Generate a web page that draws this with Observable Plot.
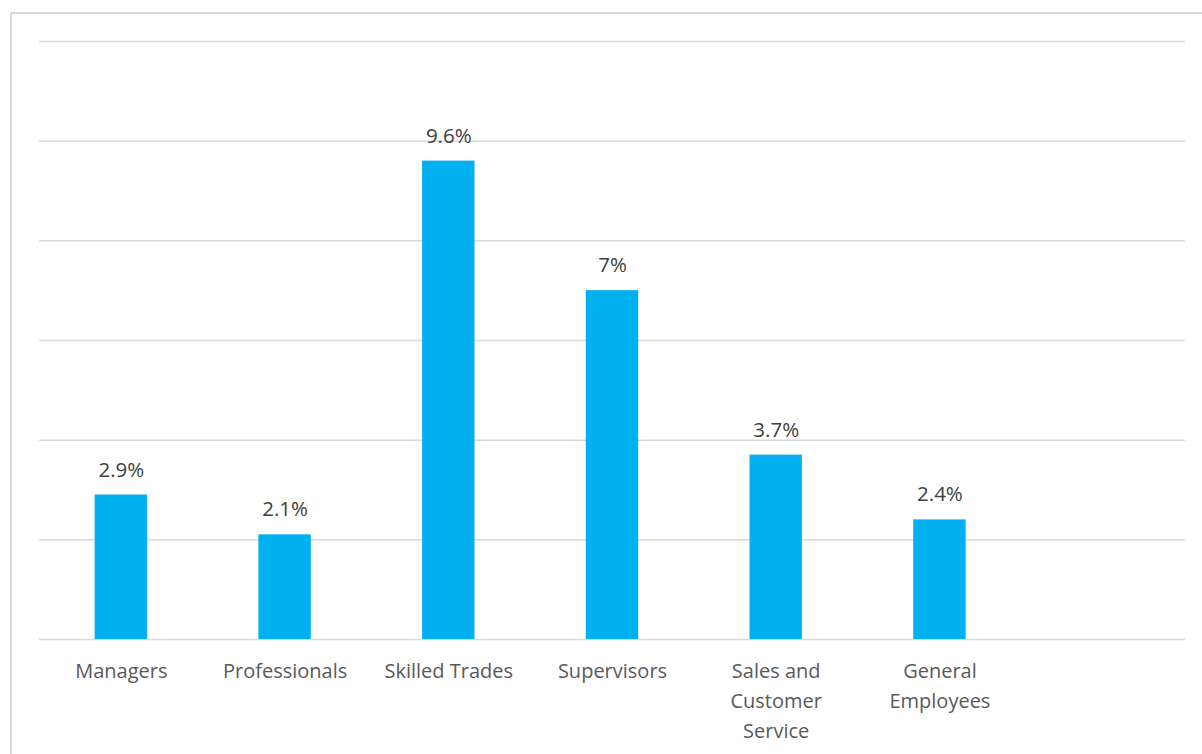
<!DOCTYPE html>
<html>
<head>
<meta charset="utf-8">
<script src="https://cdn.jsdelivr.net/npm/d3@7"></script>
<script src="https://cdn.jsdelivr.net/npm/@observablehq/plot@0.6"></script>
<style>
  html, body { margin: 0; padding: 0; background: #fff; overflow: hidden; }
  #wrap { position: relative; width: 1202px; height: 754px; }
  #frame { position: absolute; left: 10px; top: 12px; width: 1240px; height: 800px; border: 2px solid #d9d9d9; box-sizing: border-box; }
  #chart { position: absolute; left: 0; top: 0; }
</style>
</head>
<body>
<div id="wrap"><div id="frame"></div><div id="chart"></div></div>
<script>
const categories = ["Managers", "Professionals", "Skilled Trades", "Supervisors", "Sales and Customer Service", "General Employees", ""];
const tickLabels = ["Managers", "Professionals", "Skilled Trades", "Supervisors", "Sales and\nCustomer\nService", "General\nEmployees", ""];
const values = [2.9, 2.1, 9.6, 7, 3.7, 2.4];
const valueLabels = ["2.9%", "2.1%", "9.6%", "7%", "3.7%", "2.4%"];
const gridTicks = [0, 2, 4, 6, 8, 10, 12];

const data = values.map((v, i) => ({cat: categories[i], value: v, label: valueLabels[i]}));
const labelOf = new Map(categories.map((c, i) => [c, tickLabels[i]]));

const chart = Plot.plot({
  width: 1202,
  height: 754,
  marginLeft: 39,
  marginRight: 17,
  marginTop: 41,
  marginBottom: 115,
  style: {fontFamily: "'Open Sans', sans-serif", fontSize: "20px", background: "transparent"},
  x: {domain: categories, paddingInner: 0.68, paddingOuter: 0.34, round: false, label: null},
  y: {domain: [0, 12], label: null, axis: null},
  marks: [
    Plot.ruleY(gridTicks, {stroke: "#d9d9d9", strokeWidth: 1.5}),
    Plot.barY(data, {x: "cat", y: "value", fill: "#00b0f0"}),
    Plot.text(data, {x: "cat", y: "value", text: "label", dy: -25, fill: "#404040", fontSize: 20.5}),
    Plot.axisX({tickSize: 0, tickPadding: 17, tickFormat: d => labelOf.get(d), fill: "#595959", fontSize: 20, lineHeight: 1.5})
  ]
});
document.getElementById("chart").appendChild(chart);
</script>
</body>
</html>
